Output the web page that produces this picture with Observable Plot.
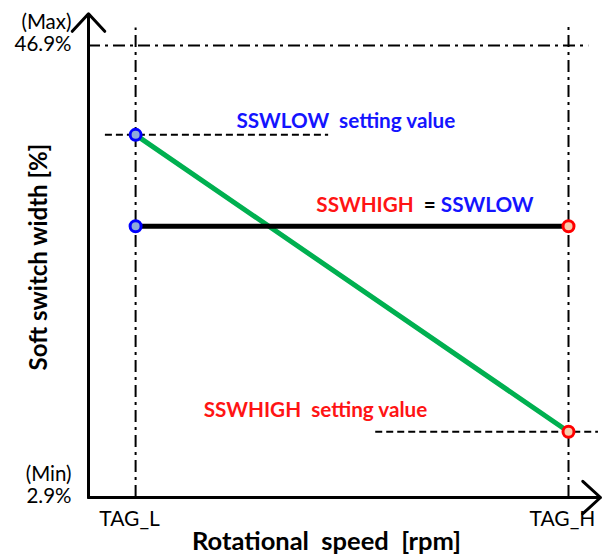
<!DOCTYPE html>
<html><head><meta charset="utf-8">
<script src="https://cdn.jsdelivr.net/npm/d3@7"></script>
<script src="https://cdn.jsdelivr.net/npm/@observablehq/plot@0.6"></script>
<style>body{margin:0;background:#fff}</style>
</head><body><div id="chart"></div>
<script>
// x in arbitrary rpm units (0..100), y in %
const TAG_L = 9.2, TAG_H = 93.75;
const xTickValues = [TAG_L, TAG_H];
const xTickLabels = ["TAG_L", "TAG_H"];
const yTickValues = [2.9, 46.9];
const yTickLabels = ["2.9%", "46.9%"];
const yTickNotes = ["(Min)", "(Max)"];
const sswLow = 38.2, sswHigh = 9.3, sswEqual = 29.3;
const greenX = [TAG_L, TAG_H], greenY = [sswLow, sswHigh];
const blackX = [TAG_L, TAG_H], blackY = [sswEqual, sswEqual];
const bluePtsX = [TAG_L, TAG_L], bluePtsY = [sswLow, sswEqual];
const redPtsX = [TAG_H, TAG_H], redPtsY = [sswEqual, sswHigh];
const dashRefs = [{x1: 3.3, x2: 46.9, y: sswLow}, {x1: 56.1, x2: 99.6, y: sswHigh}];
const annotations = [
  {x: 28.9, y: 39.5, parts: [["SSWLOW", "#1414ff"], ["  setting value", "#1414ff"]]},
  {x: 44.5, y: 31.3, parts: [["SSWHIGH", "#ff1414"], ["  = ", "#000"], ["SSWLOW", "#1414ff"]]},
  {x: 22.5, y: 11.4, parts: [["SSWHIGH", "#ff1414"], ["  setting value", "#ff1414"]]}
];
const xLabel = "Rotational  speed  [rpm]";
const yLabel = "Soft switch width [%]";

const font = "Lato, 'Open Sans', sans-serif";
const dashDot = "12,5,3,5";

const plot = Plot.plot({
  width: 604, height: 556,
  marginLeft: 88, marginRight: 4, marginTop: 45, marginBottom: 59,
  style: {fontFamily: font, background: "#fff", overflow: "visible"},
  x: {domain: [0, 100], range: [88, 600], axis: null},
  y: {domain: [2.9, 46.9], range: [497, 45], axis: null},
  marks: [
    Plot.ruleY([46.9], {x1: 0, x2: 97.7, stroke: "#000", strokeWidth: 2, strokeDasharray: dashDot}),
    Plot.ruleX([TAG_L], {y1: 2.9, y2: 48.6, stroke: "#000", strokeWidth: 2, strokeDasharray: dashDot}),
    Plot.ruleX([TAG_H], {y1: 2.9, y2: 48.85, stroke: "#000", strokeWidth: 2, strokeDasharray: dashDot}),
    Plot.ruleY(dashRefs, {x1: "x1", x2: "x2", y: "y", stroke: "#000", strokeWidth: 2, strokeDasharray: "7,4"}),
    Plot.arrow([0], {x1: 0, y1: 2.9, x2: 100, y2: 2.9, stroke: "#000", strokeWidth: 3, headLength: 12, headAngle: 85}),
    Plot.arrow([0], {x1: 0, y1: 2.9, x2: 0, y2: 50.0, stroke: "#000", strokeWidth: 3, headLength: 12, headAngle: 85}),
    Plot.line(greenX.map((x, i) => ({x, y: greenY[i]})), {x: "x", y: "y", stroke: "#00b050", strokeWidth: 5}),
    Plot.line(blackX.map((x, i) => ({x, y: blackY[i]})), {x: "x", y: "y", stroke: "#000", strokeWidth: 5}),
    Plot.dot(bluePtsX.map((x, i) => ({x, y: bluePtsY[i]})), {x: "x", y: "y", r: 5.5, fill: "#8eaadb", stroke: "#0000ff", strokeWidth: 3}),
    Plot.dot(redPtsX.map((x, i) => ({x, y: redPtsY[i]})), {x: "x", y: "y", r: 5.5, fill: "#f8cbad", stroke: "#ff0000", strokeWidth: 3}),
    Plot.text(xTickValues, {x: d => d, y: 2.9, text: (d, i) => xTickLabels[i], dy: 22, dx: -6, fontSize: 21, fill: "#000"}),
    Plot.text(yTickValues, {x: 0, y: d => d, text: (d, i) => yTickLabels[i], textAnchor: "end", dx: -17, dy: -1, fontSize: 20.5, fill: "#000"}),
    Plot.text(yTickValues, {x: 0, y: d => d, text: (d, i) => yTickNotes[i], textAnchor: "end", dx: -17, dy: -23, fontSize: 20.5, fill: "#000"}),
    Plot.text(annotations, {x: "x", y: "y", text: d => d.parts.map(p => p[0]).join(""), textAnchor: "start", fontSize: 20.7, fontWeight: "bold", className: "ann"}),
    Plot.text([xLabel], {x: 46.5, y: 2.9, text: d => d, dy: 44, fontSize: 25.5, fontWeight: "bold", fill: "#000"}),
    Plot.text([yLabel], {x: 0, y: 26.3, text: d => d, dx: -49, rotate: -90, fontSize: 24, fontWeight: "bold", fill: "#000"})
  ]
});

d3.select(plot).selectAll("g.ann text").each(function(_, i) {
  const t = d3.select(this);
  t.text(null);
  annotations[i].parts.forEach(([s, c]) => t.append("tspan").attr("fill", c).style("white-space", "pre").text(s));
});
d3.select(plot).selectAll("g.ann text").attr("xml:space", "preserve");
document.getElementById("chart").append(plot);
</script></body></html>
